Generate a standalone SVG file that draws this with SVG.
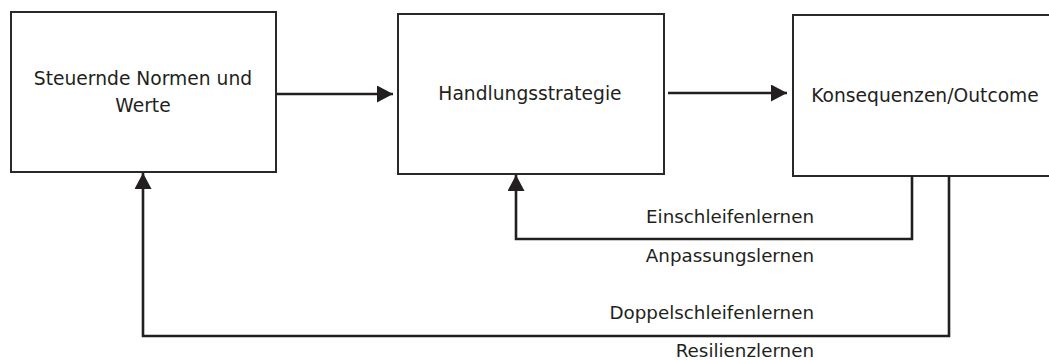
<svg xmlns="http://www.w3.org/2000/svg" width="1049" height="360" viewBox="0 0 1049 360">
  <style>
    .box { fill: #ffffff; stroke: #2b2829; stroke-width: 2; }
    .lbl { font-family: "DejaVu Sans", Verdana, sans-serif; font-size: 18.3px; fill: #231f20; }
    .big { font-size: 18.7px; }
    .mid { text-anchor: middle; }
    .end { text-anchor: end; }
    .wire { fill: none; stroke: #231f20; stroke-width: 2.6; stroke-linejoin: miter; }
  </style>
  <defs>
    <marker id="head" viewBox="0 0 16 17" refX="16" refY="8.5" markerWidth="16" markerHeight="17" markerUnits="userSpaceOnUse" orient="auto">
      <path d="M0,0 L16,8.5 L0,17 Z" fill="#231f20"/>
    </marker>
  </defs>
  <rect width="1049" height="360" fill="#ffffff"/>

  <g id="node-normen">
    <rect class="box" x="11" y="12" width="265" height="160"/>
    <text class="lbl big mid" x="143" y="85">Steuernde Normen und</text>
    <text class="lbl big mid" x="143" y="112">Werte</text>
  </g>

  <g id="node-strategie">
    <rect class="box" x="398" y="14" width="266" height="160"/>
    <text class="lbl big mid" x="530" y="100">Handlungsstrategie</text>
  </g>

  <g id="node-konsequenzen">
    <rect class="box" x="793" y="15" width="270" height="161"/>
    <text class="lbl big mid" x="925" y="102">Konsequenzen/Outcome</text>
  </g>

  <g id="connectors">
    <line class="wire" x1="277" y1="94" x2="393" y2="94" marker-end="url(#head)"/>
    <line class="wire" x1="668" y1="93" x2="787" y2="93" marker-end="url(#head)"/>
    <!-- single loop: outcome back to strategy -->
    <polyline class="wire" points="912,176 912,239 516,239 516,175" marker-end="url(#head)"/>
    <!-- double loop: outcome back to norms -->
    <polyline class="wire" points="949,176 949,336 143,336 143,173" marker-end="url(#head)"/>
  </g>

  <g id="connector-labels">
    <text class="lbl end" x="814" y="223">Einschleifenlernen</text>
    <text class="lbl end" x="814" y="262">Anpassungslernen</text>
    <text class="lbl end" x="814" y="319">Doppelschleifenlernen</text>
    <text class="lbl end" x="814" y="357">Resilienzlernen</text>
  </g>
</svg>
